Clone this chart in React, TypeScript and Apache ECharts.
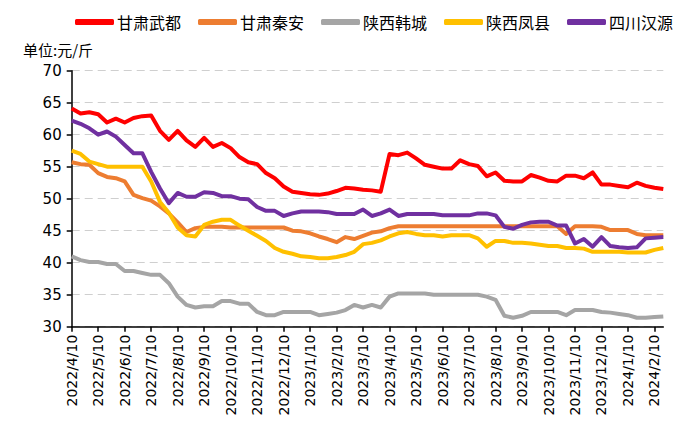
import React, { useEffect, useRef } from "react";
import * as echarts from "echarts";

const categories = [
  "2022/4/10", "2022/4/20", "2022/4/30",
  "2022/5/10", "2022/5/20", "2022/5/30",
  "2022/6/10", "2022/6/20", "2022/6/30",
  "2022/7/10", "2022/7/20", "2022/7/30",
  "2022/8/10", "2022/8/20", "2022/8/30",
  "2022/9/10", "2022/9/20", "2022/9/30",
  "2022/10/10", "2022/10/20", "2022/10/30",
  "2022/11/10", "2022/11/20", "2022/11/30",
  "2022/12/10", "2022/12/20", "2022/12/30",
  "2023/1/10", "2023/1/20", "2023/1/30",
  "2023/2/10", "2023/2/20", "2023/2/28",
  "2023/3/10", "2023/3/20", "2023/3/30",
  "2023/4/10", "2023/4/20", "2023/4/30",
  "2023/5/10", "2023/5/20", "2023/5/30",
  "2023/6/10", "2023/6/20", "2023/6/30",
  "2023/7/10", "2023/7/20", "2023/7/30",
  "2023/8/10", "2023/8/20", "2023/8/30",
  "2023/9/10", "2023/9/20", "2023/9/30",
  "2023/10/10", "2023/10/20", "2023/10/30",
  "2023/11/10", "2023/11/20", "2023/11/30",
  "2023/12/10", "2023/12/20", "2023/12/30",
  "2024/1/10", "2024/1/20", "2024/1/30",
  "2024/2/10", "2024/2/20",
];

const gansuWudu = [
  64.1, 63.3, 63.5, 63.2, 61.9, 62.5, 61.9, 62.6, 62.9, 63.0,
  60.6, 59.2, 60.6, 59.1, 58.1, 59.5, 58.1, 58.7, 57.9, 56.5,
  55.7, 55.4, 54.0, 53.2, 51.9, 51.1, 50.9, 50.7, 50.6, 50.8,
  51.2, 51.7, 51.6, 51.4, 51.3, 51.1, 57.0, 56.8, 57.2, 56.3,
  55.3, 55.0, 54.7, 54.7, 56.0, 55.4, 55.1, 53.5, 54.1, 52.8,
  52.7, 52.7, 53.7, 53.3, 52.8, 52.7, 53.6, 53.6, 53.2, 54.1,
  52.2, 52.2, 52.0, 51.8, 52.5, 52.0, 51.7, 51.5,
];

const gansuQinan = [
  55.7, 55.4, 55.3, 54.0, 53.4, 53.2, 52.7, 50.6, 50.1, 49.7,
  48.8, 47.7, 46.3, 44.8, 45.4, 45.6, 45.6, 45.6, 45.5, 45.5,
  45.5, 45.5, 45.5, 45.5, 45.5, 45.0, 44.9, 44.6, 44.1, 43.7,
  43.2, 44.0, 43.7, 44.2, 44.7, 44.9, 45.4, 45.7, 45.7, 45.7,
  45.7, 45.7, 45.7, 45.7, 45.7, 45.7, 45.7, 45.7, 45.7, 45.7,
  45.7, 45.7, 45.7, 45.7, 45.7, 45.7, 44.5, 45.7, 45.7, 45.7,
  45.6, 45.1, 45.1, 45.1, 44.5, 44.3, 44.3, 44.3,
];

const shaanxiHancheng = [
  41.0, 40.4, 40.1, 40.1, 39.8, 39.8, 38.7, 38.7, 38.4, 38.1,
  38.1, 36.8, 34.7, 33.4, 33.0, 33.2, 33.2, 34.0, 34.0, 33.6,
  33.6, 32.3, 31.8, 31.8, 32.3, 32.3, 32.3, 32.3, 31.8, 32.0,
  32.2, 32.6, 33.4, 33.0, 33.4, 33.0, 34.7, 35.2, 35.2, 35.2,
  35.2, 35.0, 35.0, 35.0, 35.0, 35.0, 35.0, 34.7, 34.2, 31.7,
  31.4, 31.7, 32.3, 32.3, 32.3, 32.3, 31.8, 32.6, 32.6, 32.6,
  32.3, 32.2, 32.0, 31.8, 31.4, 31.4, 31.5, 31.6,
];

const shaanxiFengxian = [
  57.5, 57.0, 55.8, 55.4, 55.0, 55.0, 55.0, 55.0, 55.0, 52.7,
  49.5, 47.8, 45.5, 44.3, 44.1, 45.9, 46.4, 46.7, 46.7, 45.8,
  45.0, 44.2, 43.4, 42.3, 41.7, 41.4, 41.0, 40.9, 40.7, 40.7,
  40.9, 41.2, 41.7, 42.9, 43.1, 43.5, 44.1, 44.6, 44.8, 44.5,
  44.3, 44.3, 44.1, 44.3, 44.3, 44.3, 43.8, 42.5, 43.4, 43.4,
  43.1, 43.1, 43.0, 42.8, 42.6, 42.6, 42.3, 42.3, 42.2, 41.7,
  41.7, 41.7, 41.7, 41.6, 41.6, 41.6, 42.0, 42.3,
];

const sichuanHanyuan = [
  62.2, 61.7, 61.0, 60.0, 60.5, 59.7, 58.4, 57.1, 57.1, 54.2,
  51.6, 49.3, 50.9, 50.3, 50.3, 51.0, 50.9, 50.4, 50.4, 50.0,
  49.9, 48.7, 48.1, 48.1, 47.3, 47.7, 48.0, 48.0, 48.0, 47.9,
  47.6, 47.6, 47.6, 48.3, 47.3, 47.7, 48.3, 47.3, 47.6, 47.6,
  47.6, 47.6, 47.4, 47.4, 47.4, 47.4, 47.7, 47.7, 47.4, 45.6,
  45.3, 45.9, 46.3, 46.4, 46.4, 45.8, 45.8, 43.0, 43.7, 42.5,
  44.0, 42.6, 42.4, 42.3, 42.4, 43.8, 43.9, 44.0,
];

const seriesNames = ["甘肃武都", "甘肃秦安", "陕西韩城", "陕西凤县", "四川汉源"];
const seriesColors = ["#FF0000", "#ED7D31", "#A5A5A5", "#FFC000", "#7030A0"];
const seriesData = [gansuWudu, gansuQinan, shaanxiHancheng, shaanxiFengxian, sichuanHanyuan];

const CJK = '"Noto Sans CJK SC", "Noto Sans", sans-serif';
const NUM = '"DejaVu Sans", Verdana, sans-serif';

export default function App() {
  const ref = useRef<HTMLDivElement>(null);
  useEffect(() => {
    if (!ref.current) return;
    const chart = echarts.init(ref.current, undefined, { renderer: "svg" });
    chart.setOption({
      animation: false,
      backgroundColor: "#ffffff",
      title: {
        text: "单位:元/斤",
        left: 18,
        top: 37,
        textStyle: { fontFamily: CJK, fontSize: 15, fontWeight: "normal", color: "#000" },
      },
      legend: {
        top: 9,
        left: 70,
        icon: "roundRect",
        itemWidth: 39,
        itemHeight: 6,
        itemGap: 17,
        textStyle: { fontFamily: CJK, fontSize: 16, color: "#000", padding: [0, 0, 0, -2] },
        data: seriesNames,
      },
      grid: { left: 71.7, right: 36.7, top: 70.7, bottom: 95.3, containLabel: false },
      xAxis: {
        type: "category",
        data: categories,
        boundaryGap: false,
        axisLine: { show: true, lineStyle: { color: "#000", width: 1.5 } },
        axisTick: { show: true, interval: 2, length: 5, lineStyle: { color: "#000", width: 1.5 } },
        axisLabel: {
          interval: 2,
          rotate: 90,
          margin: 8,
          fontFamily: NUM,
          fontSize: 14,
          color: "#000",
        },
        splitLine: { show: false },
      },
      yAxis: {
        type: "value",
        min: 30,
        max: 70,
        interval: 5,
        axisLine: { show: true, lineStyle: { color: "#000", width: 1.5 } },
        axisTick: { show: true, length: 5, lineStyle: { color: "#000", width: 1.5 } },
        axisLabel: { fontFamily: NUM, fontSize: 15, color: "#000", margin: 10 },
        splitLine: { show: true, lineStyle: { color: "#CFCFCF", type: [8, 5], width: 1.2 } },
      },
      series: seriesNames.map((name, i) => ({
        name,
        type: "line",
        data: seriesData[i],
        symbol: "none",
        showSymbol: false,
        itemStyle: { color: seriesColors[i] },
        lineStyle: { color: seriesColors[i], width: 4, join: "round" },
      })),
    });
    return () => chart.dispose();
  }, []);
  return <div ref={ref} style={{ width: 700, height: 422, position: "absolute", left: 0, top: 0 }} />;
}
